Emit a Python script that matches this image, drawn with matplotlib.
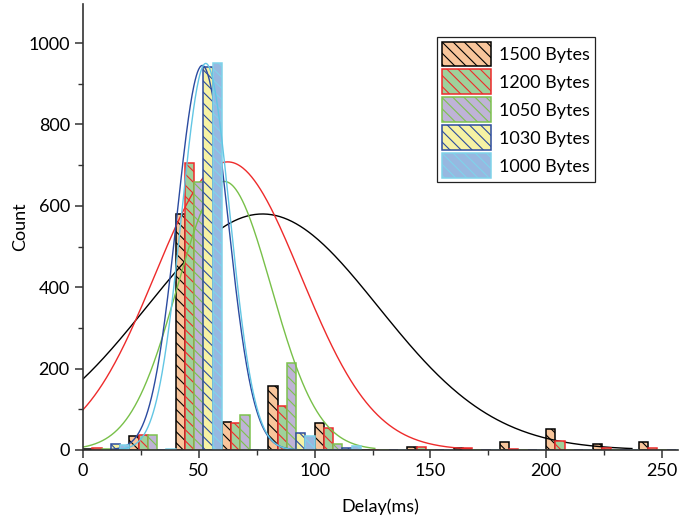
import numpy as np
import matplotlib
matplotlib.use("Agg")
from matplotlib import pyplot as plt

plt.rcParams['font.family'] = ['Lato', 'DejaVu Sans']
plt.rcParams['hatch.linewidth'] = 0.8

# histogram bins (left edge of each 20 ms bin)
bin_edges = [0, 20, 40, 60, 80, 100, 120, 140, 160, 180, 200, 220, 240]
labels = ["1500 Bytes", "1200 Bytes", "1050 Bytes", "1030 Bytes", "1000 Bytes"]

count_1500 = [3, 34, 580, 69, 157, 66, 0, 8, 5, 19, 51, 15, 19]
count_1200 = [4, 37, 705, 66, 109, 55, 0, 8, 5, 3, 22, 5, 5]
count_1050 = [2, 37, 658, 86, 213, 14, 0, 0, 0, 0, 0, 0, 0]
count_1030 = [15, 0, 942, 0, 41, 5, 0, 0, 0, 0, 0, 0, 0]
count_1000 = [12, 3, 950, 0, 34, 10, 0, 0, 0, 0, 0, 0, 0]

# gaussian fit parameters: amplitude, centre, width, x range
fit_amp = [580, 708, 660, 945, 950]
fit_mu = [77.5, 62.5, 61, 51.5, 53]
fit_sigma = [50, 31.5, 20.3, 11, 10.5]
fit_start = [0, 0, 0, 12, 16]
fit_end = [237, 167, 126, 115, 118]

fills = ["#F8C59B", "#9FD19B", "#BFB3D7", "#F6F2A4", "#97B8E0"]
edges = ["#000000", "#EE2B2B", "#7DC24E", "#2C4C9E", "#7FD3EA"]
lines = ["#000000", "#EE2B2B", "#78C049", "#2B4BA0", "#62C6E4"]

counts = [count_1500, count_1200, count_1050, count_1030, count_1000]

fig = plt.figure(figsize=(6.8, 5.17), dpi=100)
ax = fig.add_axes([83/680, 67/517, 595/680, 446/517])

bw = 4  # each series takes a fifth of the 20 ms bin
for i in range(5):
    left = np.array(bin_edges) + i * bw
    ax.bar(left, counts[i], width=bw, align='edge', color=fills[i],
           edgecolor=edges[i], linewidth=1.1, hatch='\\\\\\',
           label=labels[i], zorder=2 + 2*i)
    xs = np.linspace(fit_start[i], fit_end[i], 400)
    ys = fit_amp[i] * np.exp(-(xs - fit_mu[i])**2 / (2 * fit_sigma[i]**2))
    ax.plot(xs, ys, color=lines[i], linewidth=1.0, zorder=3 + 2*i)

ax.set_xlim(0, 256.9)
ax.set_ylim(0, 1096)
ax.set_xticks([0, 50, 100, 150, 200, 250])
ax.set_xticks([25, 75, 125, 175, 225], minor=True)
ax.set_yticks([0, 200, 400, 600, 800, 1000])
ax.set_yticks([100, 300, 500, 700, 900], minor=True)

for s in ['top', 'right']:
    ax.spines[s].set_visible(False)
for s in ['left', 'bottom']:
    ax.spines[s].set_color('#333333')
    ax.spines[s].set_linewidth(1.2)
    ax.spines[s].set_zorder(20)
ax.tick_params(which='major', direction='out', length=6, width=1.1,
               color='#333333', labelsize=13)
ax.tick_params(which='minor', direction='out', length=3.5, width=1.0,
               color='#333333')

ax.set_xlabel("Delay(ms)", fontsize=13, labelpad=14)
ax.set_ylabel("Count", fontsize=13, labelpad=0)

leg = ax.legend(loc='upper left', bbox_to_anchor=(437/680, 1 - 37/517),
                bbox_transform=fig.transFigure, borderaxespad=0,
                fontsize=13, handlelength=2.75, handleheight=1.7,
                labelspacing=0.2, handletextpad=0.45, borderpad=0.25,
                fancybox=False, framealpha=1)
leg.get_frame().set_edgecolor('#222222')
leg.get_frame().set_linewidth(0.9)
leg.set_zorder(30)

plt.savefig("out.png", dpi=100)
